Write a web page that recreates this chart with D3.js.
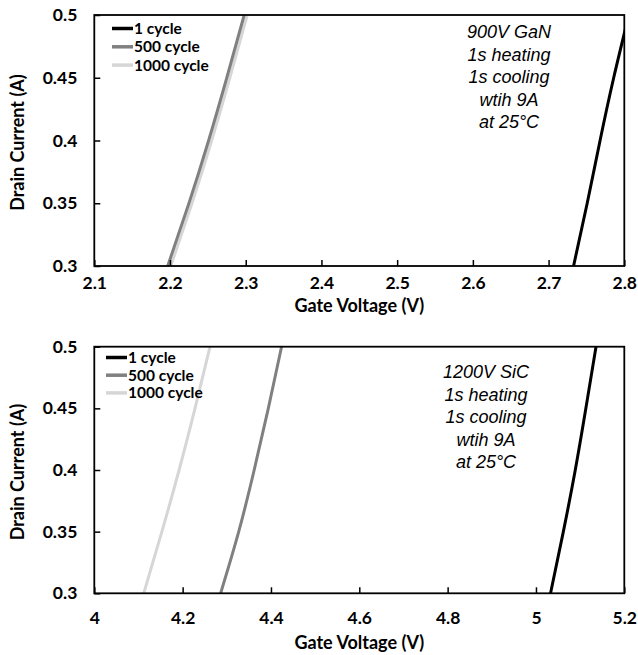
<!DOCTYPE html>
<html>
<head>
<meta charset="utf-8">
<script src="https://cdn.jsdelivr.net/npm/d3@7"></script>
<style>
  body { margin: 0; background: #fff; }
  svg { display: block; }
  .tick-label { font-family: Lato, "Open Sans", sans-serif; font-weight: bold; font-size: 17.5px; fill: #000; }
  .axis-title { font-family: Lato, "Open Sans", sans-serif; font-weight: bold; font-size: 18px; fill: #000; }
  .legend-text { font-family: Lato, "Open Sans", sans-serif; font-weight: bold; font-size: 15.5px; fill: #000; }
  .note { font-family: "Liberation Sans", Arial, sans-serif; font-style: italic; font-size: 18px; fill: #000; }
</style>
</head>
<body>
<svg id="chart" width="638" height="655"></svg>
<script>
// ---- data ----
var seriesNames = ['1 cycle', '500 cycle', '1000 cycle'];
var seriesColors = ['#000000', '#808080', '#d6d6d6'];

// drain current levels where the gate voltage was read
var currentLevels = [0.3, 0.35, 0.4, 0.45, 0.5];

// 900V GaN, gate voltage per current level
var ganCycle1 = [2.733, 2.751, 2.768, 2.786, 2.806];
var ganCycle500 = [2.197, 2.225, 2.251, 2.275, 2.298];
var ganCycle1000 = [2.201, 2.229, 2.255, 2.279, 2.302];
var ganXTicks = [2.1, 2.2, 2.3, 2.4, 2.5, 2.6, 2.7, 2.8];
var ganNote = ['900V GaN', '1s heating', '1s cooling', 'wtih 9A', 'at 25\u00B0C'];

// 1200V SiC
var sicCycle1 = [5.033, 5.062, 5.089, 5.113, 5.136];
var sicCycle500 = [4.286, 4.327, 4.362, 4.394, 4.424];
var sicCycle1000 = [4.112, 4.153, 4.192, 4.228, 4.262];
var sicXTicks = [4, 4.2, 4.4, 4.6, 4.8, 5, 5.2];
var sicNote = ['1200V SiC', '1s heating', '1s cooling', 'wtih 9A', 'at 25\u00B0C'];

var yTicks = [0.3, 0.35, 0.4, 0.45, 0.5];

/**************************************************************************************/

var svg = d3.select('#chart');

function drawPanel(opt){
    var g = svg.append('g');
    var x = d3.scaleLinear().domain(opt.xDomain).range([opt.left, opt.right]);
    var y = d3.scaleLinear().domain([0.3, 0.5]).range([opt.bottom, opt.top]);

    var clipId = 'clip' + opt.id;
    svg.append('defs').append('clipPath').attr('id', clipId)
        .append('rect')
        .attr('x', opt.left).attr('y', opt.top)
        .attr('width', opt.right - opt.left).attr('height', opt.bottom - opt.top);

    // curves (last series drawn first so 500 sits on top of 1000, 1 on top)
    var line = d3.line()
        .x(function(d){ return x(d.v); })
        .y(function(d){ return y(d.i); })
        .curve(d3.curveNatural);

    var lines = g.append('g').attr('clip-path', 'url(#' + clipId + ')');
    for(var s = opt.series.length - 1; s >= 0; s--){
        var pts = opt.series[s].map(function(v, k){ return { v: v, i: currentLevels[k] }; });
        lines.append('path')
            .attr('d', line(pts))
            .attr('fill', 'none')
            .attr('stroke', seriesColors[s])
            .attr('stroke-width', 3);
    }

    // x axis, ticks pointing in
    var xAxis = d3.axisBottom(x).tickValues(opt.xTicks).tickSizeInner(-6).tickSizeOuter(0)
        .tickFormat(d3.format('')).tickPadding(opt.xPad);
    var xg = g.append('g').attr('transform', 'translate(0,' + opt.bottom + ')').call(xAxis);
    xg.select('.domain').remove();
    xg.selectAll('.tick line').attr('stroke', '#000').attr('stroke-width', 1.5);
    xg.selectAll('.tick text').attr('class', 'tick-label').attr('font-family', null).attr('font-size', null);

    var yAxis = d3.axisLeft(y).tickValues(yTicks).tickSizeInner(-6).tickSizeOuter(0)
        .tickFormat(d3.format('')).tickPadding(17);
    var yg = g.append('g').attr('transform', 'translate(' + opt.left + ',0)').call(yAxis);
    yg.select('.domain').remove();
    yg.selectAll('.tick line').attr('stroke', '#000').attr('stroke-width', 1.5);
    yg.selectAll('.tick text').attr('class', 'tick-label').attr('font-family', null).attr('font-size', null);

    // frame
    g.append('rect')
        .attr('x', opt.left).attr('y', opt.top)
        .attr('width', opt.right - opt.left).attr('height', opt.bottom - opt.top)
        .attr('fill', 'none').attr('stroke', '#000').attr('stroke-width', 1.8);

    // axis titles
    g.append('text').attr('class', 'axis-title')
        .attr('x', (opt.left + opt.right) / 2).attr('y', opt.bottom + opt.titleGap)
        .attr('text-anchor', 'middle').text('Gate Voltage (V)');
    g.append('text').attr('class', 'axis-title')
        .attr('transform', 'translate(24,' + ((opt.top + opt.bottom) / 2 + 2) + ') rotate(-90)')
        .attr('text-anchor', 'middle').text('Drain Current (A)');

    // legend
    var lg = g.append('g').attr('transform', 'translate(' + opt.legendX + ',' + opt.legendY + ')');
    seriesNames.forEach(function(name, k){
        var row = lg.append('g').attr('transform', 'translate(0,' + (k * opt.legendStep) + ')');
        row.append('line').attr('x1', 0).attr('x2', 21).attr('y1', 0).attr('y2', 0)
            .attr('stroke', seriesColors[k]).attr('stroke-width', 3.5);
        row.append('text').attr('class', 'legend-text').attr('x', 22).attr('y', 5.5).text(name);
    });

    // annotation
    var note = g.append('text').attr('class', 'note').attr('text-anchor', 'middle');
    opt.note.forEach(function(t, k){
        note.append('tspan').attr('x', opt.noteX).attr('y', opt.noteY + k * 22.5).text(t);
    });
}

drawPanel({
    id: 'gan', xDomain: [2.1, 2.8], xTicks: ganXTicks,
    series: [ganCycle1, ganCycle500, ganCycle1000],
    left: 94.3, right: 624.3, top: 15, bottom: 266,
    xPad: 11, titleGap: 46,
    legendX: 112, legendY: 28.5, legendStep: 18.3,
    note: ganNote, noteX: 509, noteY: 38
});

drawPanel({
    id: 'sic', xDomain: [4, 5.2], xTicks: sicXTicks,
    series: [sicCycle1, sicCycle500, sicCycle1000],
    left: 94.3, right: 624.3, top: 346.7, bottom: 593.3,
    xPad: 18, titleGap: 56,
    legendX: 106, legendY: 357.5, legendStep: 17.7,
    note: sicNote, noteX: 486, noteY: 378
});
</script>
</body>
</html>
